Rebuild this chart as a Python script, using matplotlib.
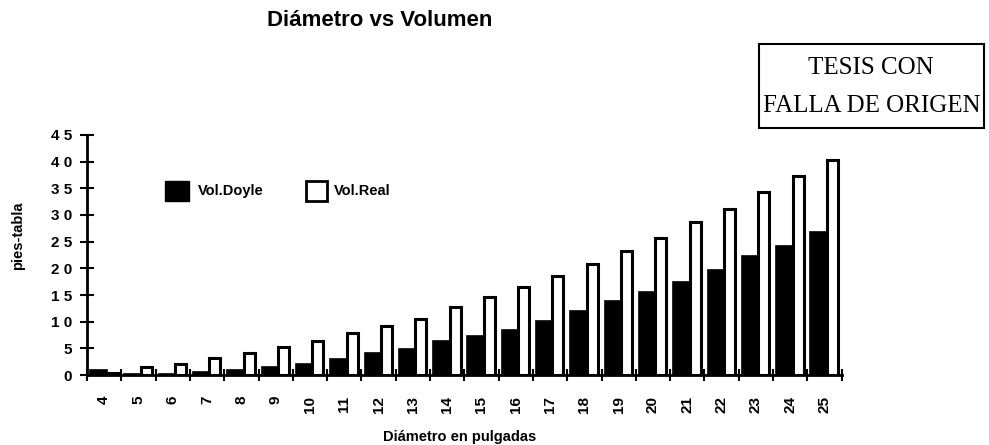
import matplotlib
matplotlib.use("Agg")
import matplotlib.pyplot as plt
import numpy as np
from matplotlib.patches import Rectangle
from matplotlib import font_manager

diametros = [str(d) for d in range(4, 26)]
vol_doyle = [0.9, 0.3, 0.3, 0.6, 1.0, 1.6, 2.1, 3.0, 4.1, 4.9, 6.4, 7.3, 8.4, 10.1,
             12.0, 13.9, 15.6, 17.4, 19.7, 22.3, 24.2, 26.8]
vol_real = [0.4, 1.5, 2.0, 3.2, 4.1, 5.2, 6.3, 7.8, 9.2, 10.6, 12.8, 14.6, 16.5, 18.6,
            20.8, 23.3, 25.7, 28.7, 31.1, 34.3, 37.3, 40.3]
yticks = [0, 5, 10, 15, 20, 25, 30, 35, 40, 45]
ytick_labels = ["0", "5", "1 0", "1 5", "2 0", "2 5", "3 0", "3 5", "4 0", "4 5"]

plt.rcParams['font.family'] = ['Liberation Sans', 'DejaVu Sans']

installed = {f.name for f in font_manager.fontManager.ttflist}
if 'DejaVu Serif Condensed' in installed:
    stamp_family = ['DejaVu Serif Condensed']
    stamp_size = 20
else:
    stamp_family = ['Liberation Serif']
    stamp_size = 18

fig = plt.figure(figsize=(9.89, 4.45), dpi=100)
ax = fig.add_axes([0.088, 0.157, 0.763, 0.54])

n = len(diametros)
x = np.arange(n)
bw = 0.48
rw = 0.32
ax.bar(x + 0.09, vol_doyle, width=bw, align='edge', color='black', edgecolor='black', linewidth=1.2, zorder=3)
ax.bar(x + 0.09 + bw, vol_real, width=rw, align='edge', color='white', edgecolor='black', linewidth=2.2, zorder=3)

ax.set_xlim(0, n)
ax.set_ylim(0, 45)
ax.set_xticks(np.arange(n + 1))
ax.set_xticklabels([])
ax.set_xticks(x + 0.5, minor=True)
ax.set_xticklabels(diametros, minor=True, rotation=90, fontsize=11, fontweight='bold')
ax.tick_params(axis='x', which='major', direction='inout', length=8, width=1.5)
ax.tick_params(axis='x', which='minor', length=0, pad=15)
ax.set_yticks(yticks)
ax.set_yticklabels(ytick_labels, fontsize=11, fontweight='bold')
ax.tick_params(axis='y', direction='inout', length=10, width=1.5, pad=6)

for s in ['top', 'right']:
    ax.spines[s].set_visible(False)
for s in ['left', 'bottom']:
    ax.spines[s].set_linewidth(2)

fig.text(0.465, 0.018, "Diámetro en pulgadas", ha='center', va='center', fontsize=10.5, fontweight='bold')
fig.text(0.018, 0.47, "pies-tabla", ha='center', va='center', rotation=90, fontsize=10.5, fontweight='bold')

fig.text(0.384, 0.955, "Diámetro vs Volumen", ha='center', va='center', fontsize=16, fontweight='bold')

# legend
fig.patches.append(Rectangle((0.167, 0.548), 0.024, 0.045, transform=fig.transFigure,
                             facecolor='black', edgecolor='black'))
fig.text(0.2, 0.57, "Vol.Doyle", ha='left', va='center', fontsize=10.5, fontweight='bold')
fig.patches.append(Rectangle((0.309, 0.548), 0.022, 0.045, transform=fig.transFigure,
                             facecolor='white', edgecolor='black', linewidth=2))
fig.text(0.338, 0.57, "Vol.Real", ha='left', va='center', fontsize=10.5, fontweight='bold')

# stamp
fig.patches.append(Rectangle((0.767, 0.712), 0.228, 0.19, transform=fig.transFigure,
                             facecolor='white', edgecolor='black', linewidth=1.5))
fig.text(0.881, 0.848, "TESIS CON", ha='center', va='center', fontsize=stamp_size,
         family=stamp_family)
fig.text(0.881, 0.762, "FALLA DE ORIGEN", ha='center', va='center', fontsize=stamp_size,
         family=stamp_family)

fig.savefig("out.png", dpi=100)
